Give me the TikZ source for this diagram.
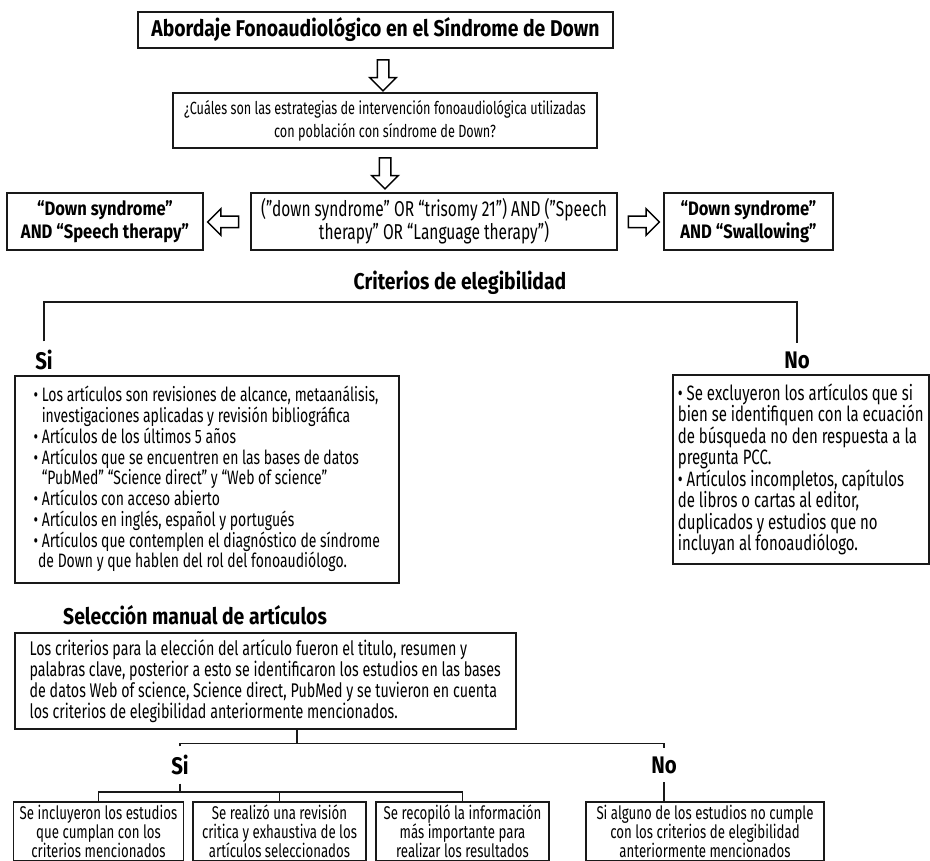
\documentclass[tikz,border=0pt]{standalone}
\usepackage{fontspec}
\setmainfont{Fira Sans}[FakeStretch=0.72]
\newfontfamily\headfont{Fira Sans}[FakeStretch=0.85]
\usetikzlibrary{shapes.arrows, calc}

\tikzset{
	box/.style={draw=black!90, line width=1.5pt, inner xsep=6pt, inner ysep=4pt},
	bigarrow/.style={single arrow, draw=black, line width=1.5pt, fill=white, inner sep=5pt,
		minimum height=31pt, single arrow head extend=7.5pt},
	branch/.style={line width=1.5pt, black!90},
	headline/.style={font=\headfont\fontsize{22.8}{26}\selectfont\bfseries, inner sep=2pt},
	yesno/.style={font=\headfont\fontsize{24}{26}\selectfont\bfseries, inner xsep=2pt, inner ysep=8.5pt},
	boldeq/.style={font=\headfont\fontsize{19.5}{23}\selectfont\bfseries},
}

\begin{document}
\begin{tikzpicture}[x=1pt, y=-1pt]

\useasboundingbox[fill=white] (0,0) rectangle (930,861);

%Title and question
\node[box, headline, minimum width=475pt, minimum height=36pt] (title) at (375.5,30)
	{Abordaje Fonoaudiológico en el Síndrome de Down};
\node[box, font=\fontsize{17.6}{23}\selectfont, minimum width=424pt, minimum height=55pt, align=center] (quest) at (385,120.5)
	{¿Cuáles son las estrategias de intervención fonoaudiológica utilizadas\\
	 con población con síndrome de Down?};

%Search equations
\node[box, boldeq, minimum width=196pt, minimum height=57pt, align=center] (eqleft) at (105,221.5)
	{“Down syndrome”\\AND “Speech therapy”};
\node[box, font=\fontsize{21.5}{23}\selectfont, minimum width=366pt, minimum height=57pt, align=center] (eqmain) at (434,221.5)
	{("down syndrome" OR “trisomy 21”) AND ("Speech\\
	 therapy" OR “Language therapy”)};
\node[box, boldeq, minimum width=169pt, minimum height=57pt, align=center] (eqright) at (748.5,221.5)
	{“Down syndrome”\\AND “Swallowing”};

%Arrows
\node[bigarrow, rotate=-90] (arr1) at (383,72.5) {};
\node[bigarrow, rotate=-90] (arr2) at (385,170.5) {};
\node[bigarrow, rotate=180] (arrL) at (226,222) {};
\node[bigarrow] (arrR) at (641,222) {};

%Eligibility criteria
\node[headline] (crit) at (460,283) {Criterios de elegibilidad};
\coordinate (critbar) at (420,302);

\node[yesno] (siA) at (44,360) {Si};
\node[yesno] (noA) at (797,360) {No};
\draw[branch] (siA.north) |- (critbar) -| (noA.north);

\node[box, font=\fontsize{19.4}{20.75}\selectfont, anchor=north west, minimum width=384pt, minimum height=207pt,
	align=left] (sibox) at (14,375)
	{• Los artículos son revisiones de alcance, metaanálisis,\\
	 \phantom{• }investigaciones aplicadas y revisión bibliográfica\\
	 • Artículos de los últimos 5 años\\
	 • Artículos que se encuentren en las bases de datos\\
	 \phantom{• }“PubMed” “Science direct” y “Web of science”\\
	 • Artículos con acceso abierto\\
	 • Artículos en inglés, español y portugués\\
	 • Artículos que contemplen el diagnóstico de síndrome\\
	 \phantom{•}de Down y que hablen del rol del fonoaudiólogo.};

\node[box, font=\fontsize{20.8}{21.5}\selectfont, anchor=north west, minimum width=256pt, minimum height=189pt,
	inner xsep=3pt, align=left] (nobox) at (672,374)
	{• Se excluyeron los artículos que si\\
	 bien se identifiquen con la ecuación\\
	 de búsqueda no den respuesta a la\\
	 pregunta PCC.\\
	 • Artículos incompletos, capítulos\\
	 de libros o cartas al editor,\\
	 duplicados y estudios que no\\
	 incluyan al fonoaudiólogo.};

%Manual selection
\node[headline, anchor=west] (selec) at (61,615) {Selección manual de artículos};

\node[box, font=\fontsize{19.8}{21}\selectfont, anchor=north west, minimum width=501pt, minimum height=96pt,
	align=left] (selbox) at (14,632)
	{Los criterios para la elección del artículo fueron el titulo, resumen y\\
	 palabras clave, posterior a esto se identificaron los estudios en las bases\\
	 de datos Web of science, Science direct, PubMed y se tuvieron en cuenta\\
	 los criterios de elegibilidad anteriormente mencionados.};

\coordinate (selstem) at ($(selbox.south west)!0.563!(selbox.south east)$);
\coordinate (selbar) at ($(selstem)+(0,14)$);

\node[yesno] (siB) at (180,765) {Si};
\node[yesno] (noB) at (664,765) {No};
\draw[branch] (selstem) -- (selbar);
\draw[branch] (siB.north) |- (selbar) -| (noB.north);

%Final boxes
\tikzset{final/.style={box, font=\fontsize{18.4}{19}\selectfont, anchor=north, inner ysep=3pt, align=center}}
\node[final, minimum width=169pt] (res1) at (98.5,801)
	{Se incluyeron los estudios\\que cumplan con los\\criterios mencionados};
\node[final, minimum width=173pt] (res2) at (279.5,801)
	{Se realizó una revisión\\critica y exhaustiva de los\\artículos seleccionados};
\node[final, minimum width=173pt] (res3) at (462.5,801)
	{Se recopiló la información\\más importante para\\realizar los resultados};
\node[final, minimum width=238pt] (res4) at (705,801)
	{Si alguno de los estudios no cumple\\con los criterios de elegibilidad\\anteriormente mencionados};

\coordinate (sibar) at (180,792);
\draw[branch] (siB.south) -- (sibar);
\draw[branch] (res1.north) |- (sibar) -| (res3.north);
\draw[branch] (res2.north) -- (res2.north |- sibar);
\draw[branch] (noB.south) -- (noB.south |- res4.north);

\end{tikzpicture}
\end{document}
